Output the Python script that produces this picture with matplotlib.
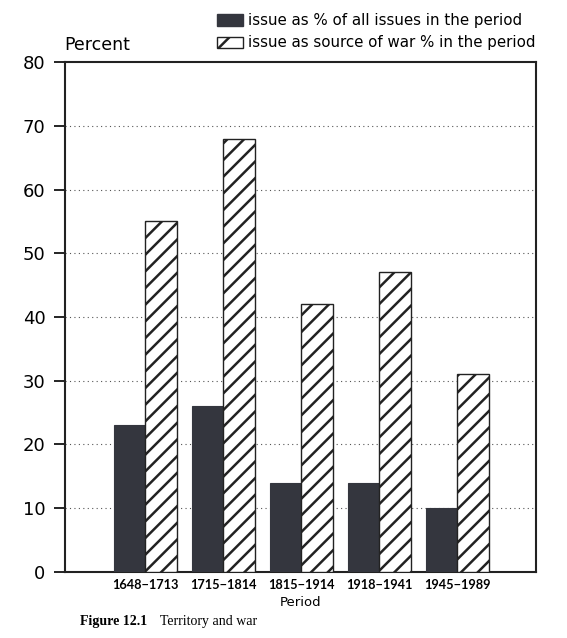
import matplotlib
matplotlib.use("Agg")
import matplotlib.pyplot as plt
import matplotlib.patches as mpatches
import numpy as np

# data
periods = ["1648\u22121713", "1715\u22121814", "1815\u22121914", "1918\u22121941", "1945\u22121989"]
share_of_issues = [23, 26, 14, 14, 10]
share_of_wars = [55, 68, 42, 47, 31]
labels = ["issue as % of all issues in the period",
          "issue as source of war % in the period"]
y_ticks = [0, 10, 20, 30, 40, 50, 60, 70, 80]

plt.rcParams["hatch.linewidth"] = 1.8
plt.rcParams["font.family"] = "DejaVu Sans"

fig = plt.figure(figsize=(5.67, 6.38), dpi=100)
ax = fig.add_axes([0.1146, 0.1035, 0.8307, 0.7993])

x = np.arange(len(periods))
w = 0.405
dark = "#34363e"
ax.bar(x - w / 2, share_of_issues, width=w, color=dark, edgecolor=dark,
       linewidth=0.8, zorder=3)
ax.bar(x + w / 2, share_of_wars, width=w, color="white", edgecolor="#222222",
       hatch="//", linewidth=1.0, zorder=3)

ax.set_xlim(-1.03, 5.01)
ax.set_ylim(0, 80)
ax.set_yticks(y_ticks)
ax.set_yticklabels([str(t) for t in y_ticks], fontsize=13)
ax.tick_params(axis="y", length=8, width=1.2, pad=6)
ax.set_xticks(x)
ax.set_xticklabels(periods, fontsize=9.2, fontweight="bold", family="Lato")
ax.tick_params(axis="x", length=0, pad=5)
ax.set_xlabel("Period", fontsize=9.5, labelpad=4)

for v in y_ticks[1:-1]:
    ax.axhline(v, color="#555555", linestyle=(0, (1, 3)), linewidth=0.8, zorder=1)

for s in ax.spines.values():
    s.set_linewidth(1.5)
    s.set_color("#222222")

fig.text(64 / 567, 1 - 45 / 638, "Percent", fontsize=12.5, ha="left", va="center")

handles = [mpatches.Patch(facecolor=dark, edgecolor=dark),
           mpatches.Patch(facecolor="white", edgecolor="#222222", hatch="/")]
fig.legend(handles, labels, loc="upper left", bbox_to_anchor=(217 / 567, 1 - 13 / 638),
           frameon=False, fontsize=10.8, handlelength=1.7, handleheight=0.8,
           handletextpad=0.35, labelspacing=0.5, borderpad=0, borderaxespad=0)

fig.text(80 / 567, 1 - 622 / 638, "Figure 12.1", fontsize=10, fontweight="bold",
         family="Liberation Serif", ha="left", va="center")
fig.text(160 / 567, 1 - 622 / 638, "Territory and war", fontsize=10,
         family="Liberation Serif", ha="left", va="center")

fig.savefig("out.png", dpi=100)
